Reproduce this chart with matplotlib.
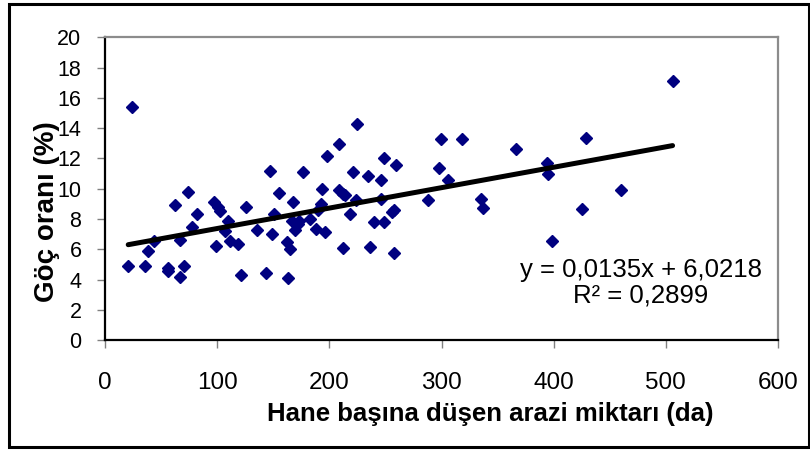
import numpy as np
import matplotlib
matplotlib.use("Agg")
import matplotlib.pyplot as plt
from matplotlib.patches import Rectangle

plt.rcParams['font.family'] = ['Liberation Sans', 'DejaVu Sans']

# land per household (da) and migration rate (%)
land = [20.7, 24.4, 35.9, 38.7, 43.7, 56.0, 56.6, 62.6, 66.8, 67.2,
        70.4, 73.7, 77.3, 82.0, 97.1, 99.4, 100.4, 102.7, 107.3, 110.0,
        111.0, 118.8, 121.0, 126.0, 135.8, 143.2, 146.9, 149.2, 151.0, 155.2,
        162.5, 163.4, 165.3, 168.0, 167.0, 169.4, 171.7, 172.7, 176.8, 182.8,
        187.8, 190.1, 193.4, 192.9, 196.1, 197.5, 208.6, 208.6, 211.8, 212.3,
        213.6, 218.2, 221.0, 223.8, 224.7, 234.3, 236.6, 239.9, 246.3, 245.9,
        248.6, 249.1, 257.4, 256.0, 257.4, 259.7, 288.2, 297.9, 299.7, 305.7,
        318.6, 335.6, 336.6, 366.5, 394.1, 394.6, 398.7, 425.0, 428.6, 460.0,
        506.0]
migration = [4.92, 15.4, 4.9, 5.9, 6.55, 4.75, 4.57, 8.9, 4.18, 6.6,
             4.88, 9.76, 7.45, 8.35, 9.1, 6.2, 8.8, 8.53, 7.23, 7.9,
             6.55, 6.35, 4.33, 8.77, 7.25, 4.46, 11.19, 7.03, 8.33, 9.69,
             6.46, 4.11, 6.02, 9.1, 7.9, 7.25, 7.69, 7.9, 11.08, 7.98,
             7.36, 8.57, 10.0, 8.97, 7.12, 12.18, 12.97, 9.89, 9.67, 6.07,
             9.6, 8.35, 11.08, 9.23, 14.29, 10.81, 6.15, 7.82, 10.55, 9.32,
             12.0, 7.8, 5.78, 8.44, 8.57, 11.54, 9.23, 11.38, 13.32, 10.55,
             13.3, 9.3, 8.7, 12.62, 11.71, 10.99, 6.55, 8.64, 13.38, 9.91,
             17.14]

# trendline as printed on the chart
slope = 0.0135
intercept = 6.0218
eq_text = "y = 0,0135x + 6,0218\nR² = 0,2899"

fig = plt.figure(figsize=(8.1, 4.5), dpi=100)
fig.patches.append(Rectangle((8.5 / 810, 1 - 447 / 450), (809 - 8.5) / 810, (447 - 3.5) / 450,
                             transform=fig.transFigure, fill=False,
                             edgecolor='black', linewidth=2.2))

ax = fig.add_axes([105 / 810, 1 - 340 / 450, 673 / 810, 302.5 / 450])

ax.plot(land, migration, 'D', color='#000080', markersize=6, linestyle='none', zorder=3)

xs = np.array([min(land), max(land)])
ax.plot(xs, slope * xs + intercept, '-', color='black', linewidth=3.6,
        solid_capstyle='round', zorder=4)

ax.set_xlim(0, 600)
ax.set_ylim(0, 20)
ax.set_xticks(range(0, 601, 100))
ax.set_yticks(range(0, 21, 2))

for side in ['top', 'right']:
    ax.spines[side].set_color('#8c8c8c')
    ax.spines[side].set_linewidth(1.6)
for side in ['left', 'bottom']:
    ax.spines[side].set_color('black')
    ax.spines[side].set_linewidth(1.6)

ax.tick_params(axis='x', direction='out', length=6, width=1, color='#808080',
               labelsize=17.5, pad=17)
ax.tick_params(axis='y', direction='out', length=6, width=1, color='#808080',
               labelsize=15.5, pad=11)

ax.set_xlabel("Hane başına düşen arazi miktarı (da)", fontsize=18.5, fontweight='bold')
ax.xaxis.set_label_coords(0.572, -0.205)
ax.set_ylabel("Göç oranı (%)", fontsize=20, fontweight='bold')
ax.yaxis.set_label_coords(-0.067, 0.425)

ax.text((641 - 105) / 673, 1 - (283 - 37.5) / 302.5, eq_text, transform=ax.transAxes,
        ha='center', va='center', fontsize=18.5, linespacing=1.1)

fig.savefig("out.png", dpi=100)
